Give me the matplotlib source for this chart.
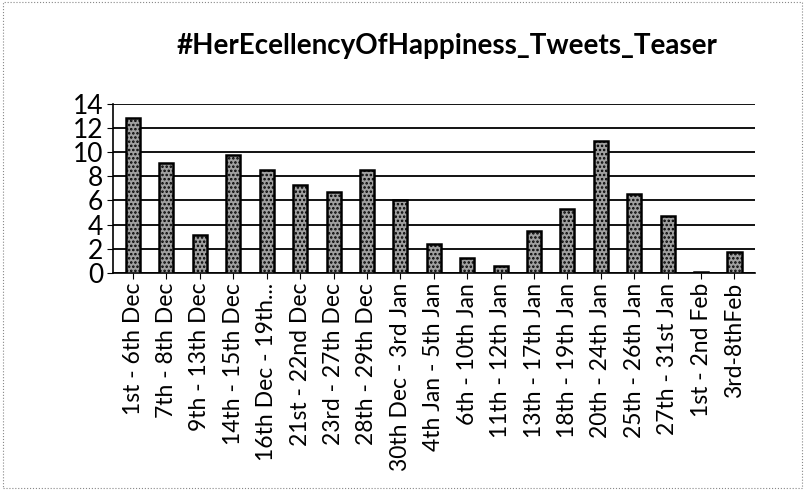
import matplotlib.pyplot as plt
import matplotlib.patches as mpatches
import numpy as np

plt.rcParams['font.family'] = ['Lato', 'DejaVu Sans']
plt.rcParams['hatch.linewidth'] = 1.2

# weekly tweet counts
periods = ["1st - 6th Dec", "7th - 8th Dec", "9th - 13th Dec", "14th - 15th Dec",
           "16th Dec - 19th...", "21st - 22nd Dec", "23rd - 27th Dec", "28th - 29th Dec",
           "30th Dec - 3rd Jan", "4th Jan - 5th Jan", "6th - 10th Jan", "11th - 12th Jan",
           "13th - 17th Jan", "18th - 19th Jan", "20th - 24th Jan", "25th - 26th Jan",
           "27th - 31st Jan", "1st - 2nd Feb", "3rd-8thFeb"]
tweets = [12.8, 9.1, 3.1, 9.8, 8.5, 7.3, 6.7, 8.5, 6.0, 2.4,
          1.2, 0.6, 3.5, 5.3, 10.9, 6.5, 4.7, 0.1, 1.7]
y_ticks = [0, 2, 4, 6, 8, 10, 12, 14]

fig = plt.figure(figsize=(8.07, 4.99), dpi=100)
ax = fig.add_axes([0.14, 0.453, 0.795, 0.339])

x = np.arange(len(periods))
ax.bar(x, tweets, width=0.42, color='#a0a0a0', edgecolor='black',
       linewidth=1.8, hatch='....', zorder=3)

ax.set_xlim(-0.6, len(periods) - 0.4)
ax.set_ylim(0, 14)
ax.set_yticks(y_ticks)
ax.set_yticklabels([str(v) for v in y_ticks], fontsize=19)
ax.set_xticks(x)
ax.set_xticklabels(periods, rotation=90, fontsize=16.5)
ax.yaxis.grid(True, color='black', linewidth=1.3, zorder=0)
ax.tick_params(axis='both', length=4, color='black', pad=3)
for side in ['top', 'right']:
    ax.spines[side].set_visible(False)
ax.spines['left'].set_linewidth(1.2)
ax.spines['bottom'].set_linewidth(1.2)

fig.text(0.554, 0.907, "#HerEcellencyOfHappiness_Tweets_Teaser",
         ha='center', va='center', fontsize=20, fontweight='bold')

# outer chart border
fig.patches.append(mpatches.Rectangle((0.004, 0.022), 0.99, 0.973, transform=fig.transFigure,
                                      fill=False, edgecolor='#888888', linewidth=0.8,
                                      linestyle=':'))

fig.savefig('out.png', dpi=100)
